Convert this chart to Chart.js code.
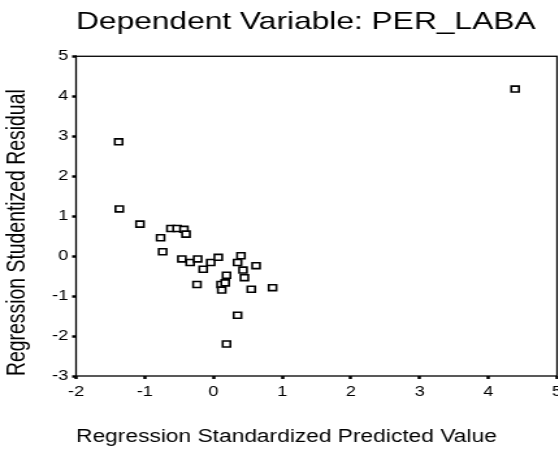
<!DOCTYPE html>
<html>
<head>
<meta charset="utf-8">
<script src="https://cdn.jsdelivr.net/npm/chart.js@4/dist/chart.umd.min.js"></script>
<style>
  html, body { margin: 0; padding: 0; background: #fff; overflow: hidden; }
  body { width: 558px; height: 450px; }
  /* the source picture is a horizontally stretched SPSS plot */
  #wrap { width: 445px; height: 450px; transform: scaleX(1.3); transform-origin: 0 0; }
</style>
</head>
<body>
<div id="wrap"><canvas id="chart"></canvas></div>
<script>
const predicted = [-1.38, -1.37, -1.07, -0.62, -0.53, -0.43, -0.40, -0.77, -0.74, -0.46,
  -0.34, -0.23, -0.15, -0.24, -0.04, 0.07, 0.19, 0.11, 0.17, 0.12,
  0.40, 0.35, 0.62, 0.43, 0.45, 0.55, 0.86, 0.35, 0.19, 4.39];
const residual = [2.86, 1.18, 0.80, 0.69, 0.69, 0.67, 0.55, 0.46, 0.11, -0.07,
  -0.16, -0.07, -0.33, -0.71, -0.16, -0.03, -0.48, -0.71, -0.67, -0.85,
  0.01, -0.16, -0.24, -0.35, -0.54, -0.83, -0.79, -1.48, -2.20, 4.18];
const xTicks = [-2, -1, 0, 1, 2, 3, 4, 5];
const yTicks = [-3, -2, -1, 0, 1, 2, 3, 4, 5];

const FONT = "'Liberation Sans', Arial, sans-serif";

const frame = {
  id: 'frame',
  beforeDatasetsDraw(chart) {
    const { ctx, chartArea: a } = chart;
    ctx.save();
    ctx.strokeStyle = '#000';
    ctx.lineWidth = 1.3;
    ctx.strokeRect(a.left, a.top, a.right - a.left, a.bottom - a.top);
    ctx.restore();
  }
};

const tickGrid = { drawOnChartArea: false, drawTicks: true, tickLength: 3, tickWidth: 2.5, tickColor: '#000', color: '#000' };

new Chart(document.getElementById('chart'), {
  type: 'scatter',
  data: {
    datasets: [{
      data: predicted.map((x, i) => ({ x, y: residual[i] })),
      pointStyle: 'rect',
      pointRadius: 4.2,
      pointHoverRadius: 4.2,
      borderColor: '#000',
      backgroundColor: '#fff',
      borderWidth: 1.6
    }]
  },
  options: {
    responsive: true,
    maintainAspectRatio: false,
    animation: false,
    layout: { padding: { left: 0, right: 16.5, top: 0, bottom: 0 } },
    plugins: {
      legend: { display: false },
      tooltip: { enabled: false },
      title: {
        display: true,
        text: 'Dependent Variable: PER_LABA',
        align: 'start',
        fullSize: false,
        color: '#000',
        font: { family: FONT, size: 24.4, weight: 'normal' },
        padding: { top: 8, bottom: 19 }
      }
    },
    scales: {
      x: {
        type: 'linear',
        min: xTicks[0],
        max: xTicks[xTicks.length - 1],
        afterBuildTicks: s => { s.ticks = xTicks.map(v => ({ value: v })); },
        afterFit: s => { s.height = 74; },
        grid: tickGrid,
        border: { display: false },
        ticks: { color: '#000', padding: 4.5, font: { family: FONT, size: 14 } },
        title: {
          display: true,
          text: 'Regression Standardized Predicted Value',
          align: 'start',
          color: '#000',
          font: { family: FONT, size: 17.5 },
          padding: { top: 0, bottom: 2.5 }
        }
      },
      y: {
        type: 'linear',
        min: yTicks[0],
        max: yTicks[yTicks.length - 1],
        afterBuildTicks: s => { s.ticks = yTicks.map(v => ({ value: v })); },
        afterFit: s => { s.width = 58.5; },
        grid: tickGrid,
        border: { display: false },
        ticks: { color: '#000', padding: 3, font: { family: FONT, size: 14 } },
        title: {
          display: true,
          text: 'Regression Studentized Residual',
          align: 'start',
          color: '#000',
          font: { family: FONT, size: 19.4 },
          padding: { top: 2.4, bottom: 0 }
        }
      }
    }
  },
  plugins: [frame]
});
</script>
</body>
</html>
